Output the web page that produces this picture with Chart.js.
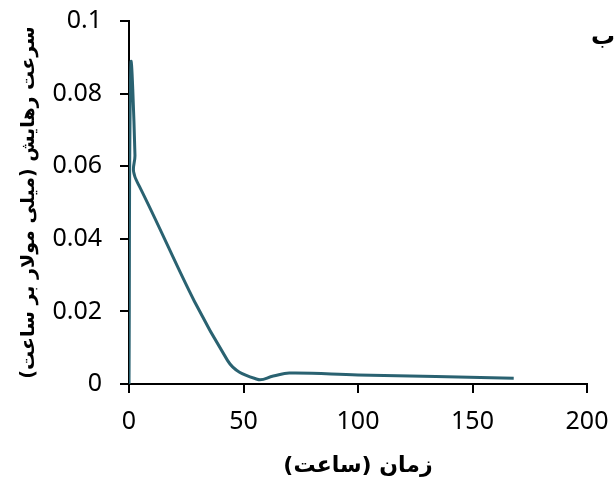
<!DOCTYPE html>
<html>
<head>
<meta charset="utf-8">
<script src="https://cdn.jsdelivr.net/npm/chart.js@4"></script>
<style>
  body { margin: 0; background: #fff; }
  canvas { display: block; }
</style>
</head>
<body>
<canvas id="myChart" width="614" height="484" dir="rtl"></canvas>
<script>
// time (hours) and release rate
const hours = [0, 0.8, 2.6, 2, 4.5, 43, 56, 63, 70, 100, 168];
const rates = [0, 0.088, 0.063, 0.0585, 0.0545, 0.0065, 0.0013, 0.0022, 0.003, 0.0025, 0.0016];
const yTickLabels = ['0', '0.02', '0.04', '0.06', '0.08', '0.1'];
const xTitle = 'زمان (ساعت)';
const yTitle = 'سرعت رهایش (میلی مولار بر ساعت)';
const panelLabel = 'ب';

const points = hours.map((h, i) => ({ x: h, y: rates[i] }));

const panelLabelPlugin = {
  id: 'panelLabel',
  afterDraw(chart) {
    const ctx = chart.ctx;
    ctx.save();
    ctx.font = 'bold 24px "DejaVu Sans", sans-serif';
    ctx.fillStyle = '#000';
    ctx.textAlign = 'center';
    ctx.textBaseline = 'middle';
    ctx.fillText(panelLabel, 603, 38);
    ctx.restore();
  }
};

const ctx = document.getElementById('myChart').getContext('2d');

const config = {
  type: 'scatter',
  data: {
    datasets: [{
      data: points,
      showLine: true,
      borderColor: '#2a6271',
      borderWidth: 3,
      pointRadius: 0,
      tension: 0.4,
      fill: false
    }]
  },
  options: {
    responsive: false,
    animation: false,
    layout: { padding: { top: 21, right: 27, left: 0, bottom: 0 } },
    plugins: {
      legend: { display: false },
      tooltip: { enabled: false }
    },
    scales: {
      x: {
        min: 0,
        max: 200,
        ticks: {
          stepSize: 50,
          color: '#000',
          padding: 14,
          font: { family: '"Noto Sans", sans-serif', size: 25 }
        },
        grid: { drawOnChartArea: false, color: '#000', lineWidth: 2, tickLength: 9 },
        border: { color: '#000', width: 2 },
        title: {
          display: true,
          text: xTitle,
          color: '#000',
          padding: { bottom: 5 },
          font: { family: '"DejaVu Sans", sans-serif', size: 22, weight: 'bold' }
        },
        afterFit(scale) {
          scale.height = 100;
          scale.paddingLeft = 0;
          scale.paddingRight = 0;
        }
      },
      y: {
        min: 0,
        max: 0.1,
        ticks: {
          stepSize: 0.02,
          color: '#000',
          padding: 18,
          font: { family: '"Noto Sans", sans-serif', size: 25 },
          callback: (v, i) => yTickLabels[i]
        },
        grid: { drawOnChartArea: false, color: '#000', lineWidth: 2, tickLength: 9 },
        border: { color: '#000', width: 2 },
        title: {
          display: true,
          text: yTitle,
          color: '#000',
          padding: { top: 18 },
          font: { family: '"DejaVu Sans", sans-serif', size: 19, weight: 'bold' }
        },
        afterFit(scale) {
          scale.width = 129;
          scale.paddingTop = 0;
          scale.paddingBottom = 0;
        }
      }
    }
  },
  plugins: [panelLabelPlugin]
};

new Chart(ctx, config);
</script>
</body>
</html>
